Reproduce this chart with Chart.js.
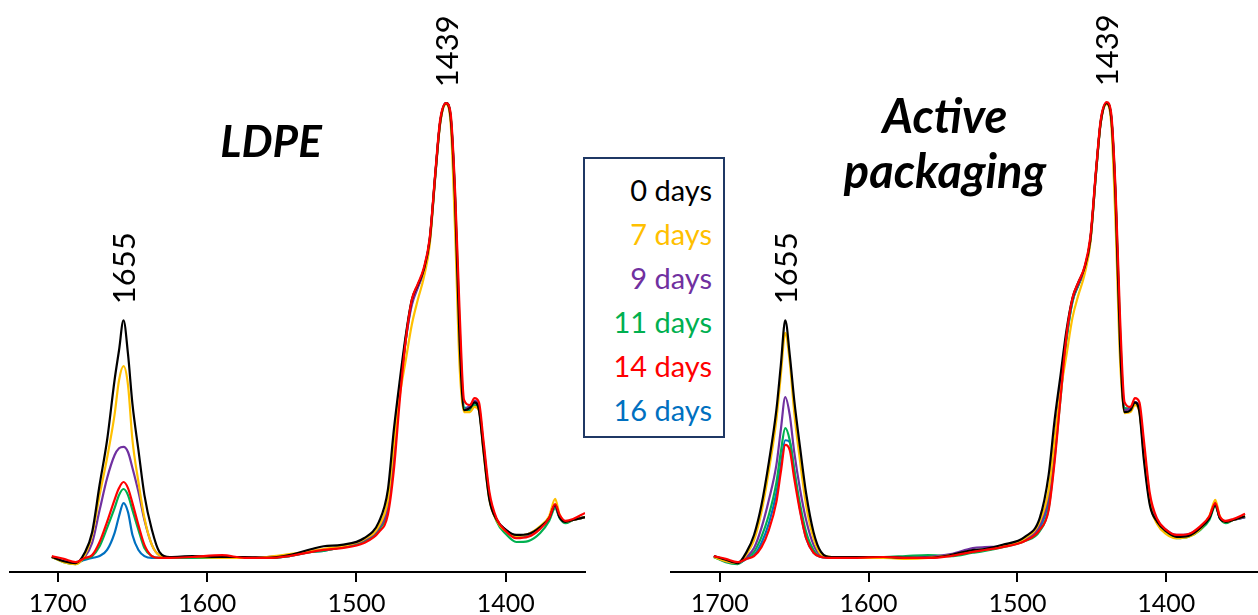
<!DOCTYPE html>
<html>
<head>
<meta charset="utf-8">
<title>FTIR spectra</title>
<script src="https://cdn.jsdelivr.net/npm/chart.js@4.4.0/dist/chart.umd.min.js"></script>
<style>
  body { margin: 0; background: #fff; width: 1258px; height: 615px; overflow: hidden; position: relative; font-family: Lato, sans-serif; }
  canvas { position: absolute; top: 0; }
  #left { left: 0; }
  #right { left: 650px; }
  .title { position: absolute; font-family: Lato, sans-serif; font-style: italic; font-weight: bold; font-size: 44px; line-height: 55px; text-align: center; color: #000; }
  #legend { position: absolute; left: 583px; top: 157px; width: 127px; height: 268px; border: 2px solid #1f3864; padding: 9px 11px 0 0; text-align: right; font-size: 29px; line-height: 44px; background: #fff; }
</style>
</head>
<body>
<canvas id="left" width="600" height="615"></canvas>
<canvas id="right" width="608" height="615"></canvas>
<div class="title" style="left:171px; top:113px; width:200px;">LDPE</div>
<div class="title" style="left:815px; top:88px; width:260px; font-size:47px;">Active<br>packaging</div>
<div id="legend"></div>
<script>
// wavenumber (cm-1), shared by every spectrum
const wavenumbers = [1704,1696,1688,1682,1677,1672,1667,1662,1659,1656,1653,1650,1646,1642,1637,1632,1625,1610,1590,1575,1560,1545,1530,1522,1510,1495,1485,1479,1475,1471,1467,1463,1459,1455,1451,1447,1444,1440,1437,1434,1431,1428,1424,1421,1418,1415,1411,1406,1400,1393,1385,1377,1371,1367,1364,1360,1355,1347];

const seriesNames = ['0 days', '7 days', '9 days', '11 days', '14 days', '16 days'];
const seriesColors = ['#000000', '#FFC000', '#7030A0', '#00B050', '#FF0000', '#0070C0'];
const tickValues = [1700, 1600, 1500, 1400];
const peakMarks = [1655, 1439];

// LDPE film (normalised absorbance)
const ldpe0 = [0.032,0.023,0.019,0.041,0.085,0.186,0.281,0.409,0.473,0.537, 0.465,0.358,0.260,0.164,0.090,0.043,0.032, 0.034,0.032,0.032,0.030,0.036,0.049,0.055,0.058,0.072, 0.107,0.175,0.303,0.409,0.505,0.580,0.612,0.644,0.708,0.857,0.959,1.000,0.970,0.793, 0.495,0.345,0.350,0.362,0.345,0.260,0.154,0.111,0.090,0.079, 0.081,0.096,0.115,0.143,0.117,0.107,0.111,0.117];
const ldpe7 = [0.032,0.021,0.017,0.036,0.079,0.164,0.243,0.335,0.409,0.439, 0.399,0.281,0.192,0.115,0.058,0.036,0.032, 0.032,0.030,0.030,0.032,0.038,0.045,0.049,0.055,0.070, 0.098,0.154,0.271,0.377,0.452,0.527,0.580,0.627,0.697,0.853,0.955,0.998,0.959,0.729, 0.441,0.341,0.341,0.352,0.345,0.256,0.154,0.109,0.087,0.077, 0.081,0.098,0.119,0.156,0.122,0.107,0.111,0.117];
const ldpe9 = [0.032,0.023,0.019,0.032,0.062,0.132,0.200,0.249,0.264,0.267, 0.256,0.222,0.171,0.111,0.058,0.036,0.032, 0.032,0.032,0.030,0.032,0.036,0.045,0.047,0.055,0.068, 0.094,0.143,0.260,0.388,0.495,0.569,0.606,0.640,0.704,0.853,0.957,1.000,0.968,0.783, 0.484,0.345,0.356,0.365,0.350,0.264,0.158,0.111,0.090,0.077, 0.081,0.096,0.115,0.141,0.117,0.107,0.111,0.117];
const ldpe11 = [0.032,0.021,0.017,0.028,0.034,0.055,0.094,0.136,0.164,0.177, 0.164,0.132,0.090,0.051,0.034,0.030,0.030, 0.030,0.030,0.030,0.030,0.034,0.043,0.045,0.053,0.066, 0.090,0.136,0.249,0.384,0.499,0.576,0.610,0.644,0.708,0.857,0.959,1.000,0.974,0.804, 0.527,0.350,0.345,0.356,0.350,0.271,0.162,0.107,0.081,0.064, 0.066,0.083,0.109,0.136,0.115,0.104,0.111,0.117];
const ldpe14 = [0.034,0.028,0.021,0.030,0.036,0.064,0.107,0.154,0.179,0.192, 0.179,0.147,0.100,0.058,0.034,0.030,0.030, 0.032,0.036,0.030,0.030,0.034,0.043,0.047,0.051,0.062, 0.085,0.122,0.217,0.367,0.495,0.580,0.614,0.648,0.712,0.861,0.964,1.000,0.979,0.814, 0.559,0.367,0.356,0.371,0.362,0.281,0.171,0.113,0.087,0.072, 0.075,0.092,0.115,0.145,0.122,0.109,0.113,0.126];
const ldpe16 = [0.032,0.023,0.021,0.026,0.030,0.034,0.047,0.083,0.119,0.147, 0.128,0.079,0.047,0.034,0.030,0.030,0.030, 0.030,0.030,0.030,0.030,0.034,0.043,0.045,0.053,0.066, 0.092,0.147,0.264,0.384,0.495,0.574,0.608,0.642,0.706,0.855,0.959,1.000,0.972,0.797, 0.505,0.350,0.352,0.360,0.348,0.267,0.160,0.111,0.087,0.075, 0.079,0.096,0.115,0.141,0.117,0.107,0.111,0.117];

// active packaging film
const active0 = [0.034,0.026,0.019,0.043,0.079,0.143,0.235,0.345,0.441,0.537, 0.463,0.367,0.264,0.168,0.085,0.043,0.032, 0.032,0.032,0.030,0.030,0.036,0.047,0.049,0.058,0.075, 0.115,0.207,0.324,0.420,0.516,0.584,0.618,0.648,0.708,0.861,0.959,1.000,0.970,0.793, 0.484,0.341,0.345,0.362,0.341,0.239,0.143,0.107,0.087,0.075, 0.077,0.094,0.115,0.143,0.115,0.107,0.111,0.119];
const active7 = [0.032,0.023,0.019,0.038,0.068,0.128,0.217,0.324,0.420,0.510, 0.448,0.341,0.235,0.143,0.072,0.038,0.032, 0.030,0.030,0.028,0.030,0.036,0.045,0.047,0.055,0.072, 0.107,0.175,0.281,0.384,0.463,0.542,0.591,0.633,0.701,0.857,0.957,0.998,0.959,0.740, 0.452,0.339,0.341,0.356,0.341,0.249,0.147,0.102,0.081,0.072, 0.075,0.092,0.119,0.154,0.119,0.107,0.111,0.119];
const active9 = [0.034,0.023,0.019,0.032,0.051,0.094,0.154,0.228,0.303,0.373, 0.335,0.256,0.175,0.111,0.058,0.036,0.032, 0.032,0.032,0.030,0.032,0.038,0.051,0.053,0.055,0.070, 0.100,0.164,0.281,0.399,0.505,0.580,0.614,0.644,0.706,0.857,0.959,1.000,0.970,0.789, 0.495,0.345,0.350,0.362,0.345,0.256,0.154,0.111,0.090,0.079, 0.081,0.096,0.117,0.149,0.117,0.107,0.111,0.117];
const active11 = [0.032,0.021,0.017,0.030,0.043,0.075,0.122,0.190,0.256,0.307, 0.281,0.217,0.143,0.085,0.047,0.034,0.032, 0.032,0.032,0.034,0.036,0.034,0.041,0.045,0.053,0.066, 0.087,0.136,0.243,0.371,0.495,0.576,0.612,0.644,0.708,0.857,0.962,1.000,0.974,0.804, 0.516,0.350,0.348,0.360,0.348,0.267,0.158,0.109,0.085,0.072, 0.075,0.090,0.111,0.141,0.115,0.104,0.111,0.117];
const active14 = [0.034,0.028,0.021,0.028,0.034,0.053,0.090,0.149,0.213,0.271, 0.260,0.200,0.128,0.072,0.041,0.032,0.030, 0.030,0.032,0.030,0.030,0.034,0.043,0.047,0.053,0.066, 0.090,0.132,0.235,0.371,0.505,0.584,0.618,0.650,0.714,0.864,0.964,1.002,0.979,0.814, 0.542,0.362,0.352,0.371,0.362,0.281,0.168,0.113,0.090,0.079, 0.081,0.098,0.119,0.147,0.119,0.109,0.113,0.124];
const active16 = [0.032,0.023,0.019,0.028,0.036,0.062,0.104,0.168,0.228,0.281, 0.277,0.217,0.132,0.072,0.041,0.032,0.030, 0.030,0.030,0.030,0.032,0.036,0.045,0.047,0.055,0.068, 0.094,0.154,0.267,0.388,0.499,0.578,0.612,0.644,0.706,0.857,0.959,1.000,0.972,0.797, 0.503,0.348,0.350,0.362,0.348,0.262,0.156,0.109,0.087,0.077, 0.079,0.094,0.115,0.145,0.115,0.107,0.111,0.117];

const ldpeSeries = [ldpe0, ldpe7, ldpe9, ldpe11, ldpe14, ldpe16];
const activeSeries = [active0, active7, active9, active11, active14, active16];
// red on top, then black, then the rest
const drawOrder = [1, 2, 3, 4, 0, 5];

// rotated wavenumber labels above the peaks
const peakLabelPlugin = {
  id: 'peakLabels',
  afterDatasetsDraw(chart) {
    const { ctx, scales: { x, y } } = chart;
    ctx.save();
    ctx.font = '31px Lato';
    ctx.fillStyle = '#000';
    ctx.textAlign = 'left';
    ctx.textBaseline = 'middle';
    peakMarks.forEach(wn => {
      let top = 0;
      chart.data.datasets.forEach(ds => {
        ds.data.forEach(p => { if (Math.abs(p.x - wn) <= 3 && p.y > top) top = p.y; });
      });
      const px = x.getPixelForValue(wn);
      const py = y.getPixelForValue(top) - 16;
      ctx.translate(px, py);
      ctx.rotate(-Math.PI / 2);
      ctx.fillText(String(wn), 0, 0);
      ctx.setTransform(1, 0, 0, 1, 0, 0);
    });
    ctx.restore();
  }
};

function makeChart(id, series, xMin, xMax, padLeft, padRight) {
  return new Chart(document.getElementById(id), {
    type: 'line',
    data: {
      datasets: series.map((vals, i) => ({
        label: seriesNames[i],
        data: wavenumbers.map((w, k) => ({ x: w, y: vals[k] })),
        borderColor: seriesColors[i],
        borderWidth: 2.2,
        pointRadius: 0,
        fill: false,
        cubicInterpolationMode: 'monotone',
        order: drawOrder[i]
      }))
    },
    options: {
      responsive: false,
      animation: false,
      layout: { padding: { left: padLeft, right: padRight, top: 0, bottom: 0 } },
      plugins: { legend: { display: false }, tooltip: { enabled: false } },
      scales: {
        x: {
          type: 'linear',
          reverse: true,
          min: xMin,
          max: xMax,
          afterBuildTicks: s => { s.ticks = tickValues.map(v => ({ value: v })); },
          afterFit: s => { s.height = 43; },
          ticks: {
            autoSkip: false,
            maxRotation: 0,
            padding: 7,
            color: '#000',
            font: { family: 'Lato', size: 25 },
            callback: v => String(v)
          },
          grid: { drawOnChartArea: false, drawTicks: true, tickLength: 10, color: '#000', lineWidth: 2 },
          border: { display: true, color: '#000', width: 2 }
        },
        y: { display: false, min: 0, max: 1.22 }
      }
    },
    plugins: [peakLabelPlugin]
  });
}

makeChart('left', ldpeSeries, 1347, 1732, 10, 15);
makeChart('right', activeSeries, 1338.3, 1732.8, 21, 0);

// legend box
const legend = document.getElementById('legend');
seriesNames.forEach((name, i) => {
  const row = document.createElement('div');
  row.textContent = name;
  row.style.color = seriesColors[i];
  legend.appendChild(row);
});
</script>
</body>
</html>
